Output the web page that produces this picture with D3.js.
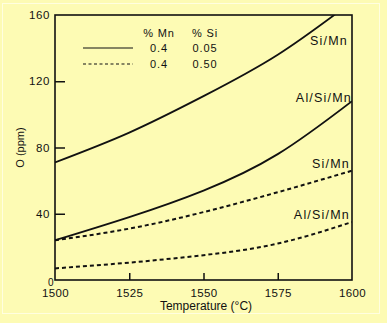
<!DOCTYPE html>
<html><head><meta charset="utf-8">
<script src="https://cdn.jsdelivr.net/npm/d3@7"></script>
<style>
html,body{margin:0;padding:0;background:#fdfbb4;}
svg{display:block;}
text{font-family:"Liberation Sans",Arial,Helvetica,sans-serif;fill:#111;}
</style></head>
<body><svg id="c" width="387" height="323"></svg>
<script>
const temps = [1500, 1525, 1550, 1575, 1600];
const solidSiMn = [71, 89, 111, 136, 168];
const solidAlSiMn = [24, 38, 54, 76, 108];
const dashedSiMn = [24, 31, 41, 53, 66];
const dashedAlSiMn = [7, 10.5, 15, 22, 35];
const xTicks = [1500, 1525, 1550, 1575, 1600];
const yTicks = [0, 40, 80, 120, 160];

const svg = d3.select("#c");
const m = {l:55, r:352, t:15, b:280};
const x = d3.scaleLinear().domain([1500,1600]).range([m.l, m.r]);
const y = d3.scaleLinear().domain([0,160]).range([m.b, m.t]);

// outer faint frame
svg.append("rect").attr("x",2.5).attr("y",3.5).attr("width",377).attr("height",310)
  .attr("fill","none").attr("stroke","#fffee0").attr("stroke-width",1);

svg.append("clipPath").attr("id","clip").append("rect")
  .attr("x",m.l).attr("y",m.t).attr("width",m.r-m.l).attr("height",m.b-m.t);

const line = d3.line().x(d=>x(d[0])).y(d=>y(d[1])).curve(d3.curveNatural);
const series = [
  {v: solidSiMn, dash: null},
  {v: solidAlSiMn, dash: null},
  {v: dashedSiMn, dash: "4,3"},
  {v: dashedAlSiMn, dash: "4,3"}
];
const g = svg.append("g").attr("clip-path","url(#clip)");
series.forEach(s=>{
  g.append("path").datum(temps.map((t,i)=>[t,s.v[i]]))
   .attr("d", line).attr("fill","none").attr("stroke","#111")
   .attr("stroke-width", s.dash ? 2 : 1.8)
   .attr("stroke-dasharray", s.dash);
});

// axes frame
svg.append("rect").attr("x",m.l).attr("y",m.t).attr("width",m.r-m.l).attr("height",m.b-m.t)
  .attr("fill","none").attr("stroke","#111").attr("stroke-width",1.6);

// bottom axis ticks (inward)
const xAxis = d3.axisBottom(x).tickValues(xTicks).tickSizeInner(-7).tickSizeOuter(0).tickPadding(10).tickFormat(d3.format("d"));
const gx = svg.append("g").attr("transform",`translate(0,${m.b})`).call(xAxis);
gx.select(".domain").remove();
gx.selectAll("line").attr("stroke","#111").attr("stroke-width",1.5)
  .filter(d=>d===1500||d===1600).remove();
gx.selectAll("text").attr("font-size",11.5).attr("letter-spacing",0.4).attr("dy",null).attr("y",17)
  .style("font-family","'Liberation Sans',Arial,sans-serif").attr("fill","#111");

// left axis ticks (inward)
const yAxis = d3.axisLeft(y).tickValues(yTicks).tickSizeInner(-10).tickSizeOuter(0).tickPadding(6);
const gy = svg.append("g").attr("transform",`translate(${m.l},0)`).call(yAxis);
gy.select(".domain").remove();
gy.selectAll("line").attr("stroke","#111").attr("stroke-width",1.5)
  .filter(d=>d===0||d===160).remove();
gy.selectAll("text").attr("font-size",11.5).attr("letter-spacing",0.6)
  .style("font-family","'Liberation Sans',Arial,sans-serif").attr("fill","#111").attr("x",-5);
gy.selectAll(".tick").filter(d=>d===0).select("text")
  .attr("x",-4).attr("dy",null).attr("y",5.5).attr("font-size",10).attr("text-anchor","middle");

// axis titles
svg.append("text").attr("x",206).attr("y",310).attr("text-anchor","middle")
  .attr("font-size",12).text("Temperature (°C)");
svg.append("text").attr("transform",`translate(24,${(m.t+m.b)/2}) rotate(-90)`)
  .attr("text-anchor","middle").attr("font-size",11).text("O (ppm)");

// curve labels
const lab = (t, xr, yb) => svg.append("text").attr("x",xr).attr("y",yb)
  .attr("text-anchor","end").attr("font-size",12.5).attr("letter-spacing",1.2).text(t);
lab("Si/Mn", 348, 45);
lab("Al/Si/Mn", 352, 102);
lab("Si/Mn", 350, 168);
lab("Al/Si/Mn", 350, 219);

// legend
const legHead = ["% Mn", "% Si"];
const legRows = [["0.4","0.05"],["0.4","0.50"]];
const colX = [159, 205];
legHead.forEach((h,i)=> svg.append("text").attr("x",colX[i]).attr("y",37)
  .attr("text-anchor","middle").attr("font-size",11).attr("letter-spacing",0.8).text(h));
legRows.forEach((r,j)=>{
  const yy = 52 + j*16;
  svg.append("line").attr("x1",83).attr("x2",133).attr("y1",yy-4).attr("y2",yy-4)
    .attr("stroke","#111").attr("stroke-width",1.1).attr("stroke-dasharray", j===1 ? "3,2.5" : null);
  r.forEach((v,i)=> svg.append("text").attr("x",colX[i]).attr("y",yy)
    .attr("text-anchor","middle").attr("font-size",11).attr("letter-spacing",0.9).text(v));
});
</script></body></html>
